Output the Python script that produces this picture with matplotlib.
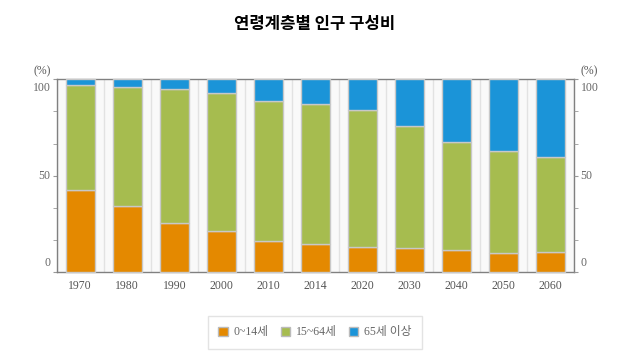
import matplotlib
matplotlib.use('Agg')
import matplotlib.pyplot as plt
import numpy as np
from matplotlib.patches import Rectangle

plt.rcParams['font.family'] = ['Liberation Serif', 'Noto Sans CJK KR']

years = ['1970', '1980', '1990', '2000', '2010', '2014', '2020', '2030', '2040', '2050', '2060']
age_0_14 = [42.5, 34.0, 25.6, 21.1, 16.1, 14.3, 13.2, 12.6, 11.2, 9.9, 10.2]
age_15_64 = [54.4, 62.2, 69.3, 71.7, 72.8, 73.1, 71.1, 63.1, 56.5, 52.7, 49.7]
age_65 = [3.1, 3.8, 5.1, 7.2, 11.1, 12.7, 15.7, 24.3, 32.3, 37.4, 40.1]
labels = ['0~14세', '15~64세', '65세 이상']
colors = ['#e48900', '#a6bc4f', '#1b94d8']

fig = plt.figure(figsize=(6.3, 3.6), dpi=100)
ax = fig.add_axes([0.09, 0.2444, 0.8216, 0.5353])
ax.set_facecolor('#f9f9f9')

x = np.arange(len(years))
w = 0.62
bottom = np.zeros(len(years))
for vals, c in zip([age_0_14, age_15_64, age_65], colors):
    ax.bar(x, vals, w, bottom=bottom, color=c, edgecolor='#c8c8c8', linewidth=1, zorder=3, clip_on=False)
    bottom += np.array(vals)

# 구간 경계선
for b in np.arange(len(years) + 1) - 0.5:
    ax.axvline(b, color='#e2e2e2', lw=1, zorder=1)

ax.set_xlim(-0.5, len(years) - 0.5)
ax.set_ylim(0, 100)
ax.set_xticks(x)
ax.set_xticklabels(years, fontsize=8.5, color='#555555')
ax.tick_params(axis='x', length=0, pad=6)

for s in ax.spines.values():
    s.set_color('#808080')
    s.set_linewidth(1)

ax2 = ax.twinx()
ax2.set_ylim(0, 100)
for a in (ax, ax2):
    a.set_yticks([0, 50, 100])
    a.set_yticks(np.linspace(0, 100, 7), minor=True)
    a.set_yticklabels([])
    a.tick_params(axis='y', which='both', length=3, color='#999999')
for s in ax2.spines.values():
    s.set_visible(False)

# 눈금 숫자 (안쪽으로 약간 이동)
for v, dy in [(100, -9 / 1.927), (50, 0), (0, 9 / 1.927)]:
    ax.text(-0.012, v + dy, str(v), transform=ax.get_yaxis_transform(), ha='right', va='center',
            fontsize=8.5, color='#666666')
    ax.text(1.012, v + dy, str(v), transform=ax.get_yaxis_transform(), ha='left', va='center',
            fontsize=8.5, color='#666666')
ax.text(-0.012, 1.04, '(%)', transform=ax.transAxes, ha='right', va='center', fontsize=8.5, color='#555555')
ax.text(1.012, 1.04, '(%)', transform=ax.transAxes, ha='left', va='center', fontsize=8.5, color='#555555')

fig.text(0.5, 0.933, '연령계층별 인구 구성비', ha='center', va='center', fontsize=12,
         fontweight='bold', family=['Noto Sans CJK KR'])

handles = [Rectangle((0, 0), 1, 1, facecolor=c, edgecolor='#bbbbbb') for c in colors]
leg = fig.legend(handles, labels, loc='center', bbox_to_anchor=(0.5, 0.077), ncol=3, frameon=True,
                 fancybox=False, fontsize=8.5, handlelength=0.8, handleheight=0.8, handletextpad=0.5,
                 columnspacing=1.0, borderpad=0.9)
leg.get_frame().set_edgecolor('#dddddd')
leg.get_frame().set_linewidth(1)
for t in leg.get_texts():
    t.set_color('#666666')

fig.savefig('out.png', dpi=100)
